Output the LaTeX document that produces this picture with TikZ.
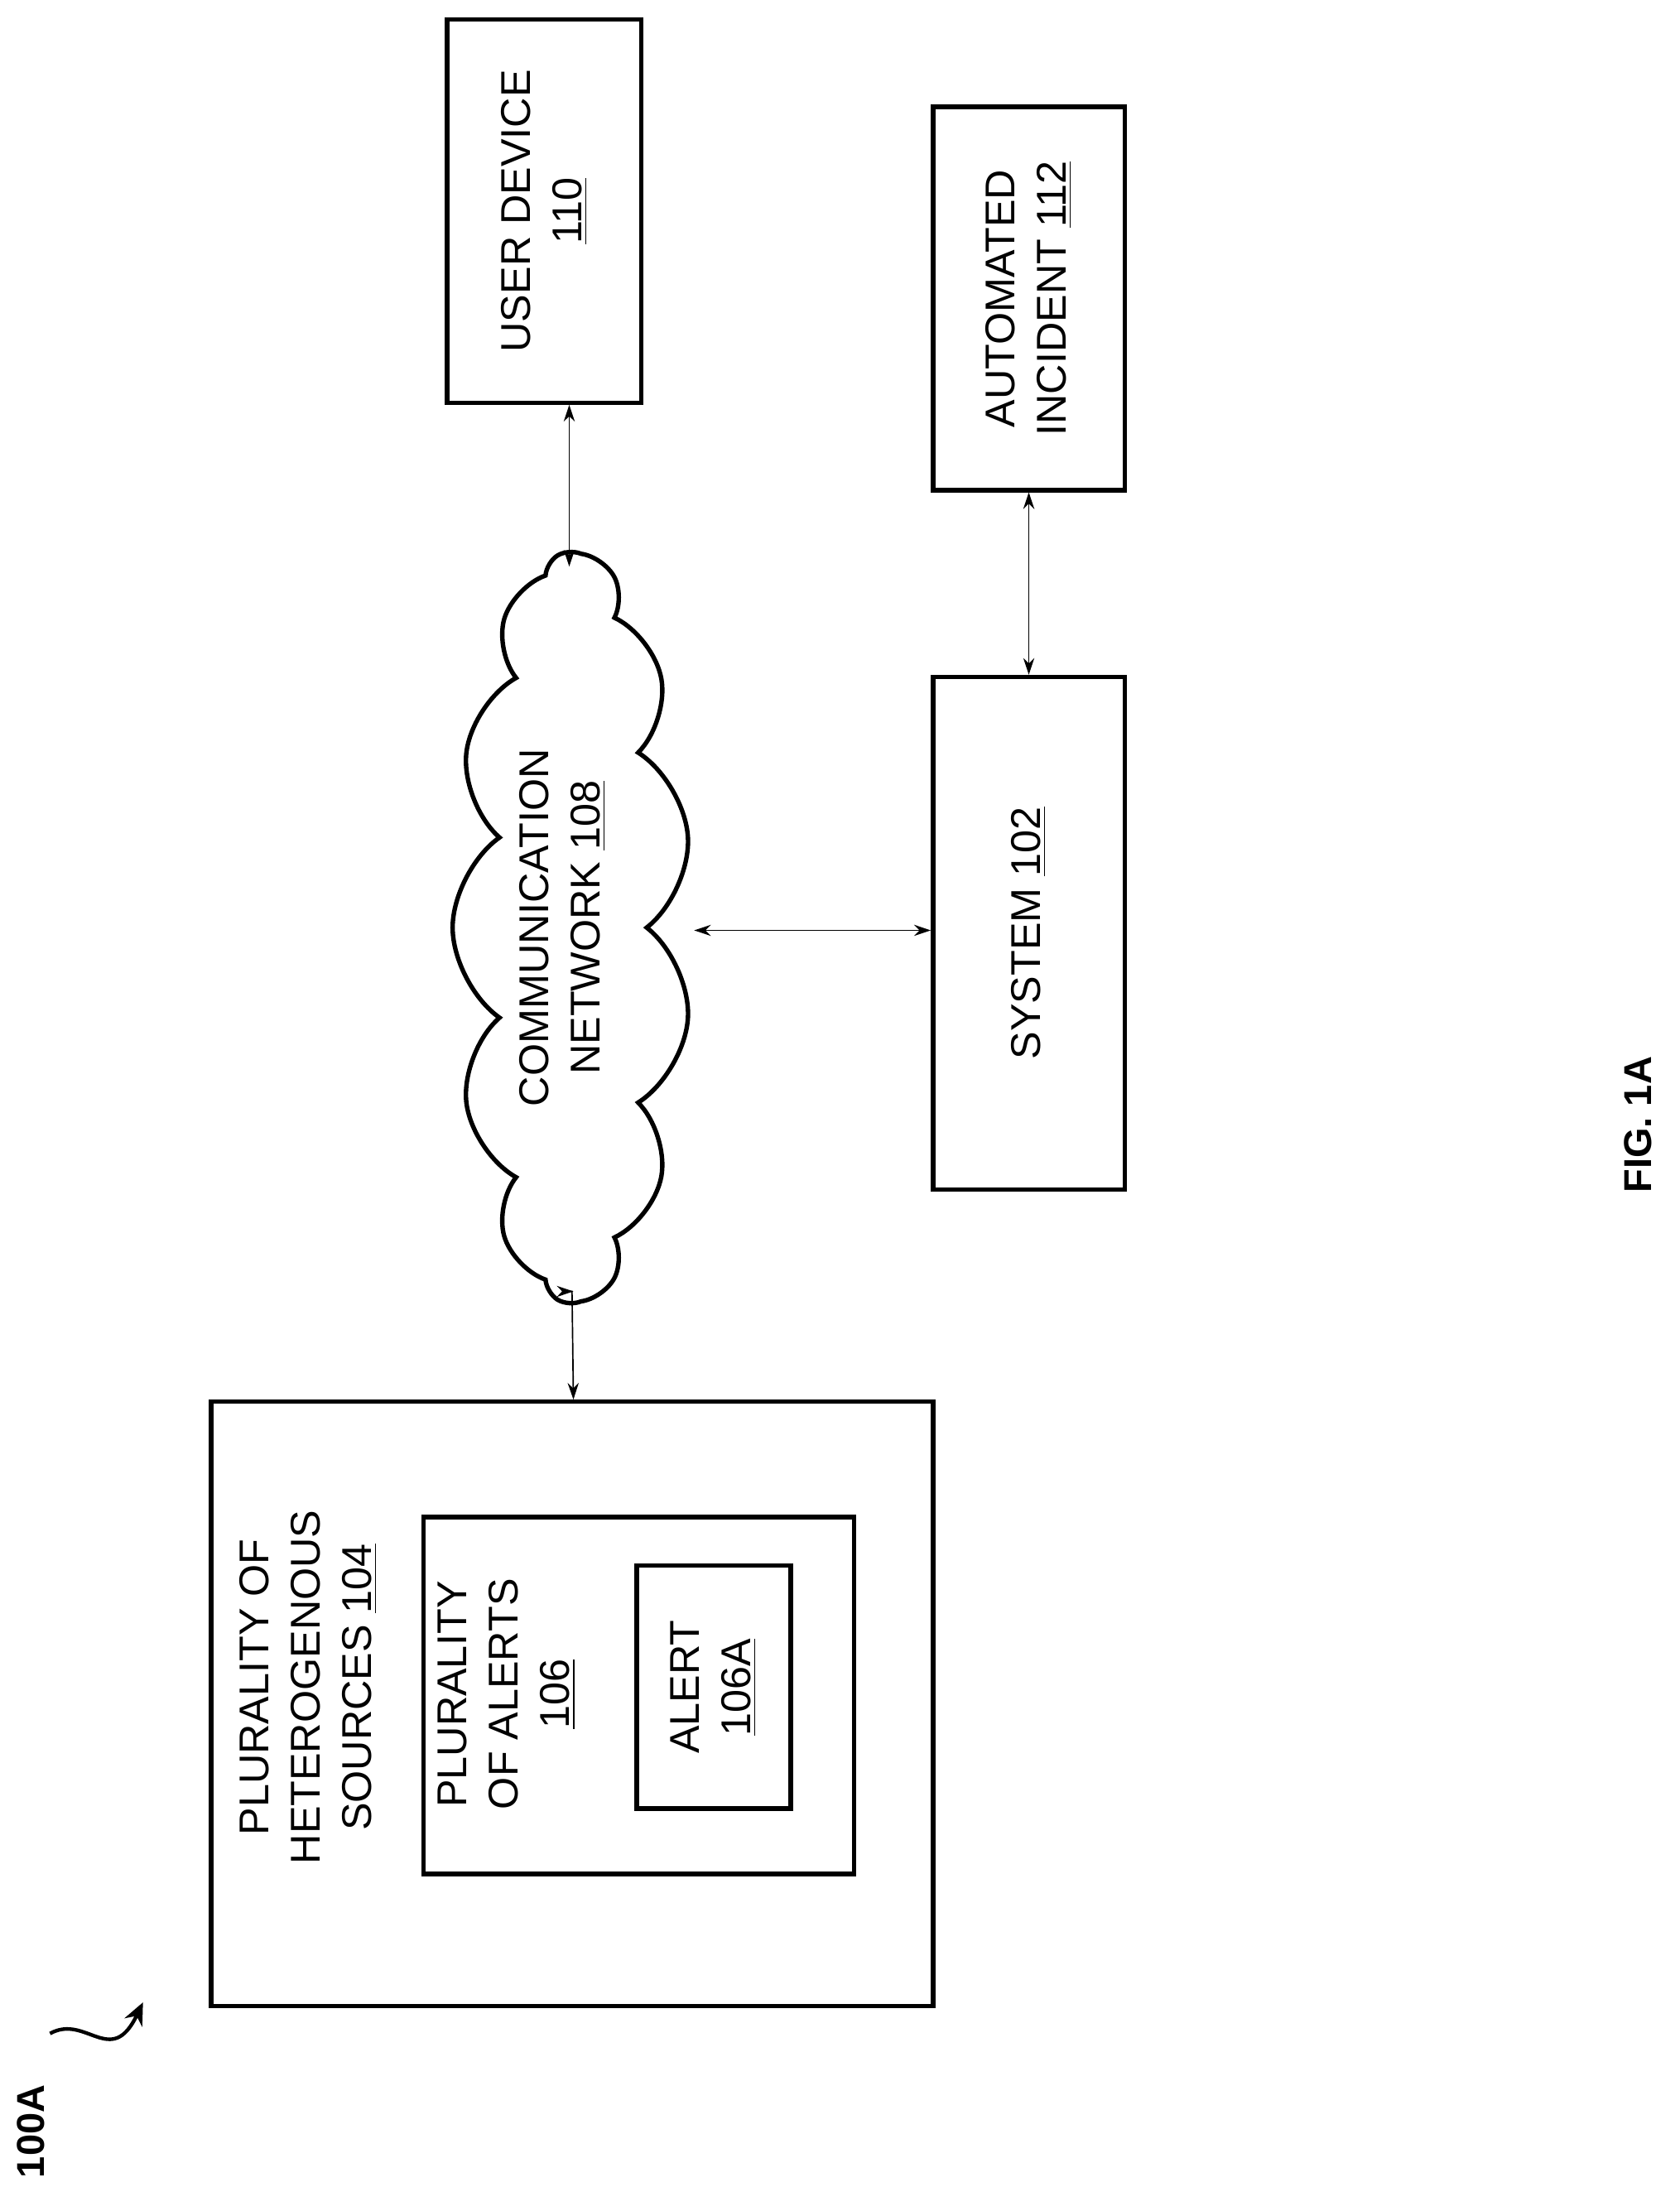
\documentclass[tikz,border=0pt]{standalone}
\usepackage{fontspec}
\setmainfont{Liberation Sans}
\usetikzlibrary{shapes.symbols,calc,arrows.meta}
\begin{document}
\begin{tikzpicture}[x=0.5pt,y=-0.5pt,
  box/.style={draw,line width=1.6pt,inner sep=0pt},
  lbl/.style={rotate=90,align=center,font=\fontsize{15}{18.5}\selectfont,inner sep=0pt},
  con/.style={{Stealth[length=6pt,width=4pt]}-{Stealth[length=6pt,width=4pt]},line width=0.5pt}]
\useasboundingbox (0,0) rectangle (1210,1575);
\node[box,minimum width=70pt,minimum height=138pt] (user) at (392,152) {};
\node[lbl] (usert) at (392,152) {USER DEVICE\\\underline{110}};
\node[box,minimum width=69pt,minimum height=138pt] (auto) at (741,215) {};
\node[lbl] (autot) at (741,215) {AUTOMATED\\INCIDENT \underline{112}};
\node[box,minimum width=69pt,minimum height=184.5pt] (sys) at (741,672) {};
\node[lbl] (syst) at (741,672) {SYSTEM \underline{102}};
\node[cloud,draw,line width=1.6pt,cloud puffs=13,cloud puff arc=110,aspect=3,minimum width=270pt,minimum height=86pt,rotate=90] (cloud) at (412,668) {};
\node[lbl] (cloudt) at (405,668) {COMMUNICATION\\NETWORK \underline{108}};
\node[box,minimum width=260pt,minimum height=217.5pt] (src) at (412,1227) {};
\node[lbl] (srct) at (222,1215) {PLURALITY OF\\HETEROGENOUS\\SOURCES \underline{104}};
\node[box,minimum width=155pt,minimum height=128.5pt] (alerts) at (460,1221) {};
\node[lbl] (alertst) at (365,1220) {PLURALITY\\OF ALERTS\\\underline{106}};
\node[box,minimum width=55.5pt,minimum height=87.5pt] (alert) at (514,1215) {};
\node[lbl] (alertt) at (514,1215) {ALERT\\\underline{106A}};
\coordinate (c1) at (410,408);
\coordinate (c2) at (500,670);
\coordinate (c3) at (413,930);
\draw[con] ($(user.south)+(18,0)$) -- (c1);
\draw[con] (c2) -- (sys.west |- c2);
\draw[con] (auto.south) -- (sys.north);
\draw[con] (c3) -- (src.north |- c3) -- ($(src.north)+(1,0)$);
\node[rotate=90,font=\bfseries\fontsize{14}{16}\selectfont] (fig) at (1180,810) {FIG. 1A};
\node[rotate=90,font=\bfseries\fontsize{14}{16}\selectfont] (ref) at (22,1535) {100A};
\coordinate (sq) at (103,1442);
\draw[line width=1.3pt,-{Stealth[length=8pt,width=7pt]}] (ref.east) ++(14,-30) .. controls (62,1450) and (80,1490) .. (sq);
\end{tikzpicture}
\end{document}
